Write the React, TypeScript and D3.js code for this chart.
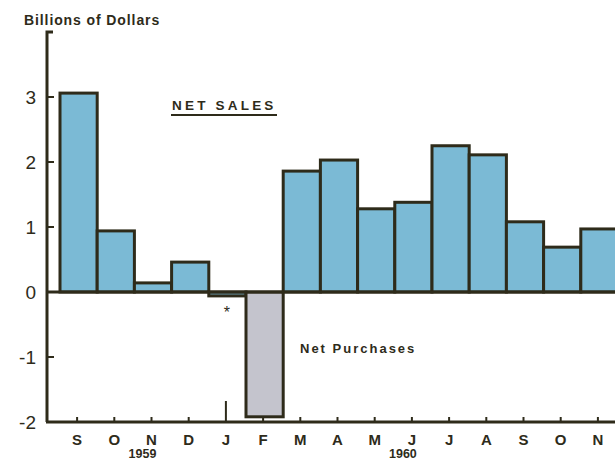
import { useEffect, useRef } from 'react'
import * as d3 from 'd3'

const months = ['S', 'O', 'N', 'D', 'J', 'F', 'M', 'A', 'M', 'J', 'J', 'A', 'S', 'O', 'N']
const values = [3.06, 0.94, 0.14, 0.46, -0.06, -1.92, 1.86, 2.03, 1.28, 1.38, 2.25, 2.11, 1.08, 0.69, 0.97]
const yTicks = [-2, -1, 0, 1, 2, 3]
const years = [
  { label: '1959', at: 2 },
  { label: '1960', at: 9 },
]

const W = 615
const H = 461
const INK = '#2e2b1a'
const BLUE = '#7bbad5'
const GREY = '#c4c4cd'
const FONT = '"Liberation Sans", Arial, sans-serif'

export default function App() {
  const svgRef = useRef<SVGSVGElement>(null)

  useEffect(() => {
    if (!svgRef.current) return
    const svg = d3.select(svgRef.current)
    svg.selectAll('*').remove()

    const x = d3
      .scaleBand<number>()
      .domain(d3.range(months.length))
      .range([60, 618])
      .padding(0)
    const y = d3.scaleLinear().domain([-2, 4]).range([422, 32])
    const axisX = 47

    // bars
    svg
      .append('g')
      .selectAll('rect')
      .data(values)
      .join('rect')
      .attr('x', (_, i) => x(i)!)
      .attr('width', x.bandwidth())
      .attr('y', (d) => y(Math.max(0, d)))
      .attr('height', (d) => Math.abs(y(d) - y(0)))
      .attr('fill', (d) => (d < -1 ? GREY : BLUE))
      .attr('stroke', INK)
      .attr('stroke-width', 3)

    // zero line
    svg
      .append('line')
      .attr('x1', axisX)
      .attr('x2', W)
      .attr('y1', y(0))
      .attr('y2', y(0))
      .attr('stroke', INK)
      .attr('stroke-width', 3)

    // y axis
    svg
      .append('path')
      .attr('d', `M${axisX + 6},${y(4)}H${axisX}V${y(-2)}`)
      .attr('fill', 'none')
      .attr('stroke', INK)
      .attr('stroke-width', 3)

    // bottom axis
    svg
      .append('line')
      .attr('x1', axisX - 1)
      .attr('x2', W)
      .attr('y1', y(-2))
      .attr('y2', y(-2))
      .attr('stroke', INK)
      .attr('stroke-width', 3)

    // y ticks + labels
    const yt = svg.append('g')
    yt.selectAll('line')
      .data(yTicks)
      .join('line')
      .attr('x1', axisX)
      .attr('x2', axisX + 7)
      .attr('y1', (d) => y(d))
      .attr('y2', (d) => y(d))
      .attr('stroke', INK)
      .attr('stroke-width', 2)
    yt.selectAll('text')
      .data(yTicks)
      .join('text')
      .attr('x', 36)
      .attr('y', (d) => y(d) + 7)
      .attr('text-anchor', 'end')
      .attr('font-family', FONT)
      .attr('font-size', 19)
      .attr('fill', INK)
      .text((d) => (d < 0 ? `-${-d}` : `${d}`))

    // x ticks + month labels
    const cx = (i: number) => x(i)! + x.bandwidth() / 2 - 1.5
    const xt = svg.append('g')
    xt.selectAll('line')
      .data(months)
      .join('line')
      .attr('x1', (_, i) => cx(i))
      .attr('x2', (_, i) => cx(i))
      .attr('y1', (_, i) => (i === 4 ? 401 : y(-2) - 5))
      .attr('y2', y(-2))
      .attr('stroke', INK)
      .attr('stroke-width', 2)
    xt.selectAll('text')
      .data(months)
      .join('text')
      .attr('x', (_, i) => cx(i))
      .attr('y', 445)
      .attr('text-anchor', 'middle')
      .attr('font-family', FONT)
      .attr('font-weight', 'bold')
      .attr('font-size', 15)
      .attr('fill', INK)
      .text((d) => d)

    svg
      .append('g')
      .selectAll('text')
      .data(years)
      .join('text')
      .attr('x', (d) => cx(d.at) - 9)
      .attr('y', 458)
      .attr('text-anchor', 'middle')
      .attr('font-family', FONT)
      .attr('font-weight', 'bold')
      .attr('font-size', 12.5)
      .attr('fill', INK)
      .text((d) => d.label)

    // asterisk under January
    svg
      .append('text')
      .attr('x', cx(4) + 1)
      .attr('y', 318)
      .attr('text-anchor', 'middle')
      .attr('font-family', FONT)
      .attr('font-size', 16)
      .attr('fill', INK)
      .text('*')

    // titles
    svg
      .append('text')
      .attr('x', 24)
      .attr('y', 25)
      .attr('font-family', FONT)
      .attr('font-weight', 'bold')
      .attr('font-size', 14)
      .attr('letter-spacing', 0.9)
      .attr('fill', INK)
      .text('Billions of Dollars')

    svg
      .append('text')
      .attr('x', 172)
      .attr('y', 110)
      .attr('font-family', FONT)
      .attr('font-weight', 'bold')
      .attr('font-size', 13.5)
      .attr('letter-spacing', 3.2)
      .attr('fill', INK)
      .text('NET SALES')
    svg
      .append('line')
      .attr('x1', 171)
      .attr('x2', 277)
      .attr('y1', 115)
      .attr('y2', 115)
      .attr('stroke', INK)
      .attr('stroke-width', 2)

    svg
      .append('text')
      .attr('x', 300)
      .attr('y', 353)
      .attr('font-family', FONT)
      .attr('font-weight', 'bold')
      .attr('font-size', 13)
      .attr('letter-spacing', 2)
      .attr('fill', INK)
      .text('Net Purchases')
  }, [])

  return (
    <svg
      ref={svgRef}
      width={W}
      height={H}
      style={{ position: 'absolute', left: 0, top: 0, display: 'block', background: '#fff' }}
    />
  )
}
